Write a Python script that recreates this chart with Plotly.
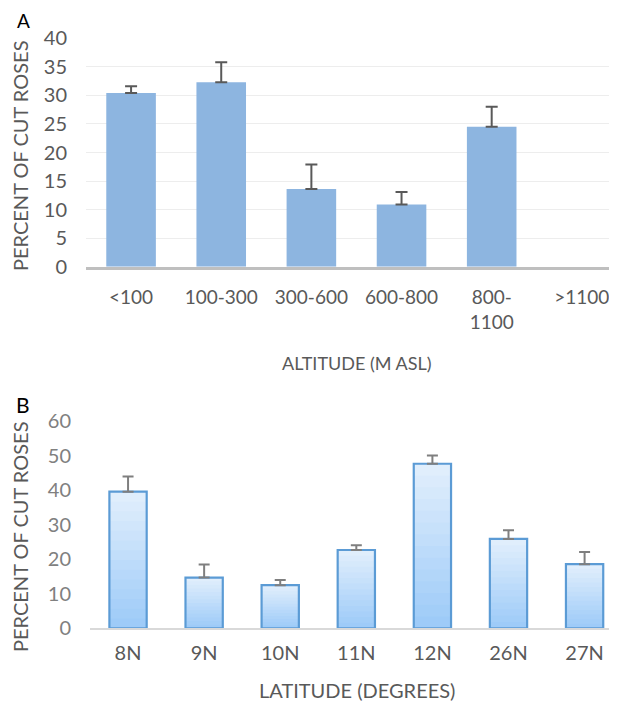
import plotly.graph_objects as go

# ---- Data: panel A (altitude) ----
alt_cats = ["<100", "100-300", "300-600", "600-800", "800-<br>1100", ">1100"]
alt_vals = [30.4, 32.3, 13.6, 10.9, 24.5, 0]
alt_err = [1.2, 3.5, 4.3, 2.2, 3.5, 0]

# ---- Data: panel B (latitude) ----
lat_cats = ["8N", "9N", "10N", "11N", "12N", "26N", "27N"]
lat_vals = [39.6, 14.7, 12.5, 22.7, 47.7, 25.9, 18.6]
lat_err = [4.4, 3.8, 1.5, 1.4, 2.4, 2.5, 3.5]

A_ticks = [0, 5, 10, 15, 20, 25, 30, 35, 40]
B_ticks = [0, 10, 20, 30, 40, 50, 60]

FONT = "Lato, 'Open Sans', sans-serif"
W, H = 617, 704
OFF = 8  # page body margin: the figure is drawn 8px from the window edge


def px(x):
    return (x - OFF) / W


def py(y):
    return 1 - (y - OFF) / H


fig = go.Figure()

# Panel A bars (an empty category shows no bar and no error bar)
alt_y = [v if v > 0 else None for v in alt_vals]
fig.add_trace(go.Bar(
    x=alt_cats, y=alt_y, xaxis="x", yaxis="y", width=0.55,
    marker=dict(color="#8DB5E0", line=dict(width=0)),
    error_y=dict(type="data", symmetric=False, array=alt_err,
                 arrayminus=[0] * len(alt_vals), color="#595959",
                 thickness=2, width=6),
    showlegend=False, hoverinfo="x+y",
))

# Panel B bars: vertical gradient built from overlaid layers
N = 14
top_c = (224, 238, 252)
bot_c = (158, 203, 248)
for k in range(N):
    f = k / (N - 1)
    c = tuple(round(top_c[i] + (bot_c[i] - top_c[i]) * f) for i in range(3))
    frac = (N - k) / N
    fig.add_trace(go.Bar(
        x=lat_cats, y=[v * frac for v in lat_vals], xaxis="x2", yaxis="y2",
        width=0.49, marker=dict(color="rgb(%d,%d,%d)" % c, line=dict(width=0)),
        showlegend=False, hoverinfo="skip",
    ))
fig.add_trace(go.Bar(
    x=lat_cats, y=lat_vals, xaxis="x2", yaxis="y2", width=0.49,
    marker=dict(color="rgba(0,0,0,0)", line=dict(color="#5B9BD5", width=2.2)),
    error_y=dict(type="data", symmetric=False, array=lat_err,
                 arrayminus=[0] * len(lat_vals), color="#7F7F7F",
                 thickness=2, width=5.5),
    showlegend=False, hoverinfo="x+y",
))

A_bot, A_top = 266.7, 38.3
B_bot, B_top = 628.3, 421.3
RIGHT = 617

fig.update_layout(
    width=W, height=H,
    margin=dict(l=0, r=0, t=0, b=0, pad=0, autoexpand=False),
    paper_bgcolor="white", plot_bgcolor="white",
    barmode="overlay",
    font=dict(family=FONT, color="#595959"),
    xaxis=dict(domain=[px(86), px(RIGHT)], anchor="y", type="category",
               range=[-0.5, 5.39], showgrid=False, showline=True,
               linecolor="#BFBFBF", linewidth=2.5, zeroline=False,
               automargin=False,
               ticks="outside", ticklen=12, tickcolor="rgba(0,0,0,0)",
               tickfont=dict(size=19, color="#595959", family=FONT)),
    yaxis=dict(domain=[py(A_bot), py(A_top)], anchor="x",
               range=[0, 40], tickvals=A_ticks, showgrid=True,
               gridcolor="#EDEDED", gridwidth=1.2, zeroline=False,
               showline=False, ticks="outside", ticklen=14,
               automargin=False,
               tickcolor="rgba(0,0,0,0)",
               tickfont=dict(size=20, color="#595959", family=FONT)),
    xaxis2=dict(domain=[px(90), px(RIGHT)], anchor="y2", type="category",
                range=[-0.5, 6.426], showgrid=False, showline=True,
                linecolor="#D9D9D9", linewidth=2, zeroline=False,
                automargin=False,
                ticks="outside", ticklen=6, tickcolor="rgba(0,0,0,0)",
                tickfont=dict(size=20, color="#595959", family=FONT)),
    yaxis2=dict(domain=[py(B_bot), py(B_top)], anchor="x2",
                range=[0, 60], tickvals=B_ticks, showgrid=False,
                zeroline=False, showline=False, ticks="outside", ticklen=14,
                automargin=False,
                tickcolor="rgba(0,0,0,0)",
                tickfont=dict(size=20, color="#808080", family=FONT)),
)


def ann(text, x, y, size, color="#595959", angle=0):
    fig.add_annotation(text=text, x=px(x), y=py(y), xref="paper",
                       yref="paper", showarrow=False, textangle=angle,
                       xanchor="center", yanchor="middle",
                       font=dict(family=FONT, size=size, color=color))


ann("A", 23, 20, 19, "black")
ann("B", 23, 404, 21, "black")
ann("PERCENT OF CUT ROSES", 20, 156, 20, angle=-90)
ann("PERCENT OF CUT ROSES", 20, 537, 20, angle=-90)
ann("ALTITUDE (M ASL)", 357, 363, 18)
ann("LATITUDE (DEGREES)", 357, 690, 20)

fig.write_html("out.html")
